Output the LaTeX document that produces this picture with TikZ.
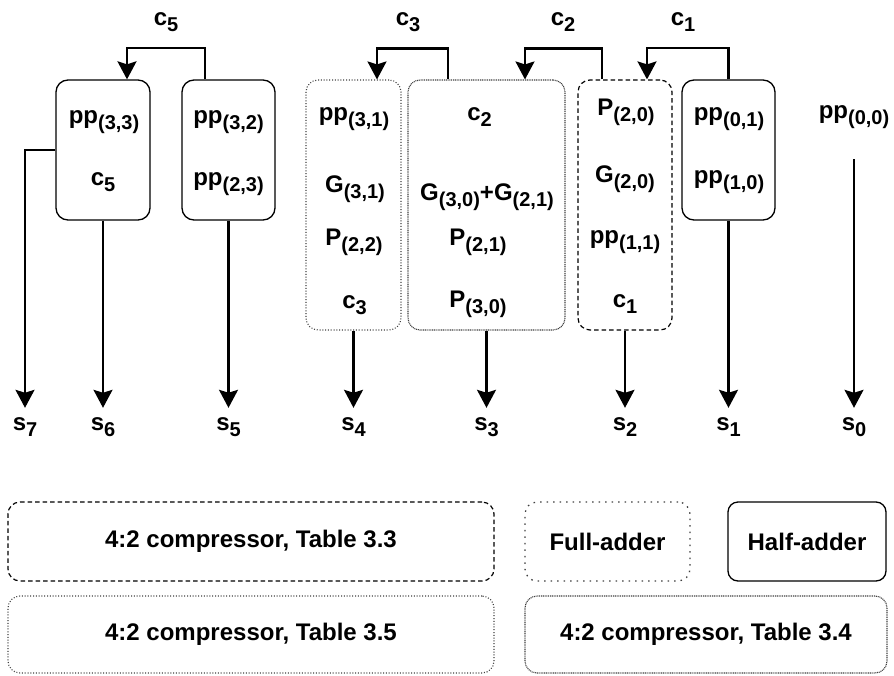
\documentclass[tikz,border=0pt]{standalone}
\usepackage{fontspec}
\setmainfont{Liberation Sans}
\usepackage{tikz}
\usetikzlibrary{arrows.meta}

% lowered index, as in the drawing
\newcommand{\sbs}[1]{\raisebox{-6pt}{\fontsize{20}{20}\selectfont #1}}

\tikzset{
  lbl/.style={inner sep=0pt,text height=17pt,text depth=12pt,anchor=base},
  halfadder/.style={draw,line width=1.3pt,rounded corners=12pt},
  comp33/.style={draw,line width=1.2pt,rounded corners=12pt,dash pattern=on 4.5pt off 3pt},
  comp34/.style={draw=black!75,line width=1.1pt,rounded corners=12pt,dash pattern=on 1pt off 0.8pt},
  comp35/.style={draw=black!75,line width=1.1pt,rounded corners=12pt,dash pattern=on 1pt off 1.8pt},
  fulladder/.style={draw=black!75,line width=1.3pt,rounded corners=12pt,dash pattern=on 1.5pt off 5pt},
  sumarrow/.style={line width=2.2pt,-{Stealth[length=18pt,width=19pt,inset=3pt]},shorten >=5pt},
  carryarrow/.style={line width=2.2pt,-{Stealth[length=18pt,width=19pt,inset=3pt]}}
}

\begin{document}
\begin{tikzpicture}[x=1pt,y=-1pt,font=\fontsize{24}{28}\selectfont\bfseries]
\useasboundingbox (0,0) rectangle (894,675);

% boxes
\node[halfadder,minimum width=94pt,minimum height=140pt] (ha6) at (103,150) {};
\node[halfadder,minimum width=93pt,minimum height=140pt] (ha5) at (228.5,150) {};
\node[comp35,minimum width=95pt,minimum height=250pt] (fa4) at (353.5,205) {};
\node[comp34,minimum width=157pt,minimum height=250pt] (cp3) at (486.5,205) {};
\node[comp33,minimum width=94pt,minimum height=250pt] (cp2) at (625,205) {};
\node[halfadder,minimum width=93pt,minimum height=140pt] (ha1) at (728.5,150) {};

% box contents
\node[lbl] (pp33) at (104,123) {pp\sbs{(3,3)}};
\node[lbl] (c5in) at (103,185) {c\sbs{5}};
\node[lbl] (pp32) at (228.5,123) {pp\sbs{(3,2)}};
\node[lbl] (pp23) at (228.5,185) {pp\sbs{(2,3)}};
\node[lbl] (pp31) at (354,120) {pp\sbs{(3,1)}};
\node[lbl] (g31) at (355,192) {G\sbs{(3,1)}};
\node[lbl] (p22) at (354,245) {P\sbs{(2,2)}};
\node[lbl] (c3in) at (354.5,308) {c\sbs{3}};
\node[lbl] (c2in) at (479.5,120) {c\sbs{2}};
\node[lbl] (g30) at (487,200) {G\sbs{(3,0)}+G\sbs{(2,1)}};
\node[lbl] (p21) at (478,245) {P\sbs{(2,1)}};
\node[lbl] (p30) at (478,307) {P\sbs{(3,0)}};
\node[lbl] (p20) at (626,115) {P\sbs{(2,0)}};
\node[lbl] (g20) at (625,182) {G\sbs{(2,0)}};
\node[lbl] (pp11) at (625,243) {pp\sbs{(1,1)}};
\node[lbl] (c1in) at (625,307) {c\sbs{1}};
\node[lbl] (pp01) at (729,120) {pp\sbs{(0,1)}};
\node[lbl] (pp10) at (729,183) {pp\sbs{(1,0)}};
\node[lbl] (pp00) at (854,118) {pp\sbs{(0,0)}};

% carries
\node[lbl] (lc5) at (166,25) {c\sbs{5}};
\node[lbl] (lc3) at (408,25) {c\sbs{3}};
\node[lbl] (lc2) at (563,25) {c\sbs{2}};
\node[lbl] (lc1) at (683,25) {c\sbs{1}};
\draw[carryarrow] ([xshift=-23.5pt]ha5.north) -- ++(0,-31) -| ([xshift=24pt]ha6.north);
\draw[carryarrow] ([xshift=-38.5pt]cp3.north) -- ++(0,-31) -| ([xshift=23.5pt]fa4.north);
\draw[carryarrow] ([xshift=-23pt]cp2.north) -- ++(0,-31) -| ([xshift=38.5pt]cp3.north);
\draw[carryarrow] (ha1.north) -- ++(0,-31) -| ([xshift=22pt]cp2.north);

% sums
\foreach \n/\x in {7/25,6/103,5/228.5,4/353.5,3/486.5,2/625,1/728.5,0/854}
  \node[lbl] (s\n) at (\x,430) {s\sbs{\n}};
\draw[sumarrow] (ha6.west) -| (s7.north);
\draw[sumarrow] (ha6.south) -- (s6.north);
\draw[sumarrow] (ha5.south) -- (s5.north);
\draw[sumarrow] (fa4.south) -- (s4.north);
\draw[sumarrow] (cp3.south) -- (s3.north);
\draw[sumarrow] (cp2.south) -- (s2.north);
\draw[sumarrow] (ha1.south) -- (s1.north);
\draw[sumarrow,shorten <=29pt] (pp00.south) -- (s0.north);

% legend
\node[comp33,minimum width=486pt,minimum height=79pt] (leg33) at (251,541.5) {4:2 compressor, Table 3.3};
\node[fulladder,minimum width=165pt,minimum height=79pt] (legfa) at (607.5,541.5) {Full-adder};
\node[halfadder,minimum width=158pt,minimum height=79pt,rounded corners=10pt] (legha) at (807,541.5) {Half-adder};
\node[comp35,minimum width=486pt,minimum height=77pt] (leg35) at (251,634.5) {4:2 compressor, Table 3.5};
\node[comp34,minimum width=362pt,minimum height=77pt] (leg34) at (706,634.5) {4:2 compressor, Table 3.4};
\end{tikzpicture}
\end{document}
